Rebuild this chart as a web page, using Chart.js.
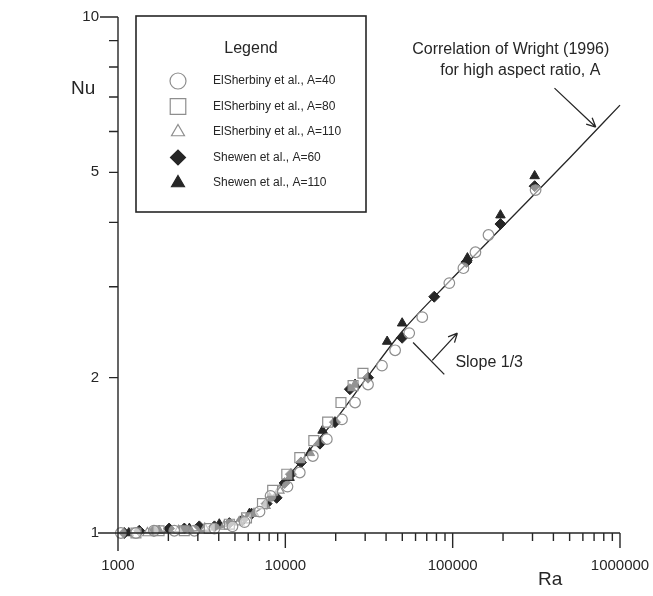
<!DOCTYPE html>
<html lang="en">
<head>
<meta charset="utf-8">
<title>Nu vs Ra</title>
<script src="https://cdn.jsdelivr.net/npm/chart.js@4.4.1/dist/chart.umd.min.js"></script>
<style>
  body { margin: 0; background: #fff; }
  #wrap { width: 653px; height: 596px; }
</style>
</head>
<body>
<div id="wrap"><canvas id="chart"></canvas></div>
<script>
// Correlation of Wright (1996)
const wrightRa = [1000, 2000, 3000, 4000, 5000, 6000, 7000, 8000, 9000, 10000, 12000, 15000, 20000, 30000, 50000, 100000, 200000, 500000, 1000000];
const wrightNu = [1.0, 1.005, 1.01, 1.02, 1.05, 1.08, 1.11, 1.16, 1.21, 1.27, 1.36, 1.49, 1.66, 1.98, 2.46, 3.12, 3.93, 5.33, 6.75];

// ElSherbiny et al., A=40 (open circles)
const els40Ra = [1040, 1280, 1640, 2170, 2860, 3770, 4830, 5700, 7010, 8160, 10300, 12200, 14600, 17700, 21800, 26100, 31200, 37800, 45300, 55000, 65800, 95500, 115900, 136800, 163700, 313000];
const els40Nu = [1.0, 1.0, 1.01, 1.01, 1.01, 1.02, 1.03, 1.05, 1.10, 1.18, 1.23, 1.31, 1.41, 1.52, 1.66, 1.79, 1.94, 2.11, 2.26, 2.44, 2.62, 3.05, 3.26, 3.50, 3.78, 4.62];

// ElSherbiny et al., A=80 (open squares)
const els80Ra = [1280, 1760, 2490, 3510, 4630, 5860, 7300, 8400, 10200, 12200, 14800, 17900, 21500, 25400, 29100];
const els80Nu = [1.0, 1.01, 1.01, 1.02, 1.04, 1.07, 1.14, 1.21, 1.30, 1.40, 1.51, 1.64, 1.79, 1.93, 2.04];

// ElSherbiny et al., A=110 (open triangles)
const els110Ra = [1500, 2300, 3300, 4300, 5300, 6500, 7600, 9200];
const els110Nu = [1.0, 1.01, 1.02, 1.03, 1.05, 1.09, 1.13, 1.21];

// Shewen et al., A=60 (filled diamonds)
const shw60Ra = [1090, 1340, 1640, 2020, 2490, 3060, 3770, 4630, 5540, 6280, 7730, 8870, 9900, 10800, 12400, 16100, 19800, 24300, 31200, 49900, 77600, 120800, 193000, 309000];
const shw60Nu = [1.0, 1.01, 1.01, 1.02, 1.02, 1.03, 1.03, 1.045, 1.06, 1.09, 1.14, 1.17, 1.25, 1.30, 1.37, 1.49, 1.64, 1.90, 2.00, 2.39, 2.87, 3.35, 3.97, 4.70];

// Shewen et al., A=110 (filled triangles)
const shw110Ra = [1160, 1760, 2670, 4030, 6100, 8050, 10600, 14000, 16700, 26100, 40600, 49900, 122500, 193000, 309000];
const shw110Nu = [1.0, 1.01, 1.02, 1.04, 1.09, 1.17, 1.28, 1.43, 1.58, 1.94, 2.35, 2.55, 3.41, 4.13, 4.92];

// axis ticks
const xMajor = [1000, 10000, 100000, 1000000];
const yLabeled = [1, 2, 5, 10];

const ink = '#262626';
const pale = '#8e8e8e';
const font = '"Liberation Sans", Arial, sans-serif';

const pts = (xs, ys) => xs.map((v, i) => ({ x: v, y: ys[i] }));
const isPow10 = v => Math.abs(Math.log10(v) - Math.round(Math.log10(v))) < 1e-9;

const xTicks = [];
for (let d = 0; d < xMajor.length - 1; d++) {
  for (let m = 1; m < 10; m++) xTicks.push(m * xMajor[d]);
}
xTicks.push(xMajor[xMajor.length - 1]);
const yTicks = [1, 2, 3, 4, 5, 6, 7, 8, 9, 10];

const openPt = (label, xs, ys, style, r, lr) => ({
  label, data: pts(xs, ys), pointStyle: style, pointRadius: r,
  pointBackgroundColor: 'rgba(255,255,255,0.5)', pointBorderColor: pale,
  pointBorderWidth: 1.2, showLine: false, clip: false, legendRadius: lr
});
const solidPt = (label, xs, ys, style, r, lr) => ({
  label, data: pts(xs, ys), pointStyle: style, pointRadius: r,
  pointBackgroundColor: ink, pointBorderColor: ink,
  pointBorderWidth: 1, showLine: false, clip: false, legendRadius: lr
});

// extra drawing: axes with outside ticks, axis names, legend box, notes
const overlay = {
  id: 'overlay',
  afterDraw(chart) {
    const { ctx, chartArea: a, scales: { x, y } } = chart;
    const P = (ra, nu) => [x.getPixelForValue(ra), y.getPixelForValue(nu)];
    ctx.save();
    ctx.strokeStyle = ink;
    ctx.fillStyle = ink;
    ctx.lineWidth = 1.4;

    ctx.beginPath();
    ctx.moveTo(a.left - 20, a.bottom);
    ctx.lineTo(a.right, a.bottom);
    ctx.moveTo(a.left, a.top);
    ctx.lineTo(a.left, a.bottom + 18);
    x.ticks.forEach(t => {
      const px = x.getPixelForValue(t.value);
      ctx.moveTo(px, a.bottom);
      ctx.lineTo(px, a.bottom + (isPow10(t.value) ? 15 : 8));
    });
    y.ticks.forEach(t => {
      const py = y.getPixelForValue(t.value);
      ctx.moveTo(a.left, py);
      ctx.lineTo(a.left - (t.value === 1 || t.value === 10 ? 18 : 9), py);
    });
    ctx.stroke();

    ctx.textBaseline = 'middle';
    ctx.font = '19px ' + font;
    ctx.textAlign = 'left';
    ctx.fillText('Nu', a.left - 47, 89);
    ctx.fillText('Ra', 538, 580);

    // legend
    const lx = a.left + 18, ly = a.top - 1;
    ctx.lineWidth = 1.6;
    ctx.strokeRect(lx, ly, 230, 196);
    ctx.textAlign = 'center';
    ctx.font = '16px ' + font;
    ctx.fillText('Legend', lx + 115, ly + 33);
    ctx.textAlign = 'left';
    ctx.font = '12px ' + font;
    chart.data.datasets.filter(d => d.legendRadius).forEach((d, i) => {
      const ry = ly + 65 + i * 25.5;
      ctx.fillStyle = d.pointBackgroundColor === ink ? ink : '#fff';
      ctx.strokeStyle = d.pointBorderColor;
      ctx.lineWidth = 1.2;
      Chart.helpers.drawPoint(ctx, { pointStyle: d.pointStyle, radius: d.legendRadius, rotation: 0, borderWidth: 1.2 }, lx + 42, ry);
      ctx.fillStyle = ink;
      ctx.fillText(d.label, lx + 77, ry);
    });

    // notes
    const arrow = (p0, p1) => {
      const ang = Math.atan2(p1[1] - p0[1], p1[0] - p0[0]);
      ctx.beginPath();
      ctx.moveTo(p0[0], p0[1]);
      ctx.lineTo(p1[0], p1[1]);
      [0.45, -0.45].forEach(s => {
        ctx.moveTo(p1[0], p1[1]);
        ctx.lineTo(p1[0] - 10 * Math.cos(ang + s), p1[1] - 10 * Math.sin(ang + s));
      });
      ctx.stroke();
    };
    ctx.strokeStyle = ink;
    ctx.lineWidth = 1.3;
    ctx.font = '16px ' + font;
    let p = P(57300, 8.63);
    ctx.fillText('Correlation of Wright (1996)', p[0], p[1]);
    p = P(84300, 7.89);
    ctx.fillText('for high aspect ratio, A', p[0], p[1]);
    arrow(P(406000, 7.28), P(716000, 6.12));

    const s0 = P(58000, 2.34), s1 = P(89100, 2.03);
    ctx.beginPath();
    ctx.moveTo(s0[0], s0[1]);
    ctx.lineTo(s1[0], s1[1]);
    ctx.stroke();
    arrow(P(75500, 2.16), P(106700, 2.44));
    p = P(103800, 2.14);
    ctx.fillText('Slope 1/3', p[0], p[1]);
    ctx.restore();
  }
};

new Chart(document.getElementById('chart'), {
  type: 'scatter',
  data: {
    datasets: [
      {
        label: 'Wright (1996)', data: pts(wrightRa, wrightNu), showLine: true,
        borderColor: ink, borderWidth: 1.3, pointRadius: 0, cubicInterpolationMode: 'monotone',
        clip: false, order: 10
      },
      openPt('ElSherbiny et al., A=40', els40Ra, els40Nu, 'circle', 5.3, 8),
      openPt('ElSherbiny et al., A=80', els80Ra, els80Nu, 'rect', 7, 11),
      openPt('ElSherbiny et al., A=110', els110Ra, els110Nu, 'triangle', 5.5, 7.5),
      solidPt('Shewen et al., A=60', shw60Ra, shw60Nu, 'rectRot', 5.5, 7.5),
      solidPt('Shewen et al., A=110', shw110Ra, shw110Nu, 'triangle', 5.5, 7.5)
    ]
  },
  options: {
    responsive: true,
    maintainAspectRatio: false,
    animation: false,
    layout: { padding: { top: 17, right: 33, left: 0, bottom: 0 } },
    plugins: { legend: { display: false }, tooltip: { enabled: false } },
    scales: {
      x: {
        type: 'logarithmic', min: 1000, max: 1000000,
        afterBuildTicks: s => { s.ticks = xTicks.map(v => ({ value: v })); },
        afterFit: s => { s.height = 63; },
        grid: { display: true, drawOnChartArea: false, drawTicks: true, tickLength: 24, tickColor: 'rgba(0,0,0,0)' },
        border: { display: false },
        ticks: {
          autoSkip: false, maxRotation: 0, padding: 0, color: ink,
          font: { family: font, size: 15 },
          callback: v => xMajor.includes(v) ? String(v) : ''
        }
      },
      y: {
        type: 'logarithmic', min: 1, max: 10,
        afterBuildTicks: s => { s.ticks = yTicks.map(v => ({ value: v })); },
        afterFit: s => { s.width = 118; },
        grid: { display: true, drawOnChartArea: false, drawTicks: true, tickLength: 19, tickColor: 'rgba(0,0,0,0)' },
        border: { display: false },
        ticks: {
          autoSkip: false, padding: 0, color: ink,
          font: { family: font, size: 15 },
          callback: v => yLabeled.includes(v) ? String(v) : ''
        }
      }
    }
  },
  plugins: [overlay]
});
</script>
</body>
</html>
